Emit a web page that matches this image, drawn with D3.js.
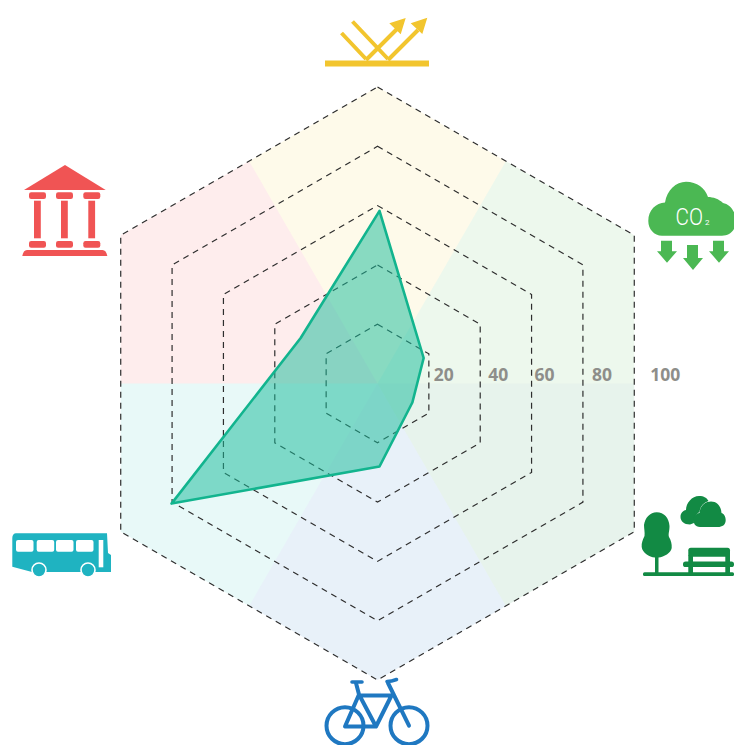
<!DOCTYPE html>
<html>
<head>
<meta charset="utf-8">
<script src="https://cdn.jsdelivr.net/npm/d3@7"></script>
<style>
  html, body { margin: 0; padding: 0; background: #fff; overflow: hidden; }
  svg { display: block; }
  .tick-label { font: 700 17.5px "Open Sans", sans-serif; fill: #8e8e8a; text-anchor: middle; }
</style>
</head>
<body>
<div class="chart"></div>
<script>
// clockwise from the top
var categories = ["albedo", "co2", "park", "bike", "bus", "civic"];
var sectorColors = ["#f2c52e", "#4bb853", "#128a44", "#1f78c1", "#1fb3c1", "#f05454"];
var sectorTints = ["#f4d030", "#4bb853", "#128a44", "#1f78c1", "#1fc2bd", "#f44f4f"];
var values = [58.2, 17.2, 12.8, 28, 81, 30.7];
var ringTicks = [20, 40, 60, 80, 100];
var tickLabelNudge = [15, 18, 13, 19, 31];

var svgWidth = 734;
var svgHeight = 745;
var centerX = 377.5;
var centerY = 383.5;
var maxRadius = 296.5;

var svg = d3
  .select(".chart")
  .append("svg")
  .attr("width", svgWidth)
  .attr("height", svgHeight);

var rScale = d3.scaleLinear().domain([0, 100]).range([0, maxRadius]);
var angleScale = d3
  .scalePoint()
  .domain(categories)
  .range([0, 2 * Math.PI * (categories.length - 1) / categories.length]);

var chart = svg
  .append("g")
  .attr("transform", "translate(" + centerX + "," + centerY + ")");

var radialClosed = d3.lineRadial().curve(d3.curveLinearClosed);

// coloured kite behind every axis
var halfStep = Math.PI / categories.length;
chart
  .selectAll(".sector")
  .data(categories)
  .enter()
  .append("path")
  .attr("class", "sector")
  .attr("fill", function(d, i) { return sectorTints[i]; })
  .attr("fill-opacity", 0.1)
  .attr("d", function(d) {
    var a = angleScale(d);
    var edgeMid = maxRadius * Math.cos(halfStep);
    return radialClosed([
      [a - halfStep, 0],
      [a - halfStep, edgeMid],
      [a, maxRadius],
      [a + halfStep, edgeMid]
    ]);
  });

// dashed rings
chart
  .selectAll(".ring")
  .data(ringTicks)
  .enter()
  .append("path")
  .attr("class", "ring")
  .attr("fill", "none")
  .attr("stroke", "#2e2e2e")
  .attr("stroke-width", 1.2)
  .attr("stroke-dasharray", "6,5")
  .attr("d", function(t) {
    return radialClosed(categories.map(function(c) {
      return [angleScale(c), rScale(t)];
    }));
  });

chart
  .selectAll(".tick-label")
  .data(ringTicks)
  .enter()
  .append("text")
  .attr("class", "tick-label")
  .attr("x", function(t, i) { return rScale(t) * Math.cos(halfStep) + tickLabelNudge[i]; })
  .attr("y", -3)
  .text(function(t) { return t; });

// data polygon sits a touch right of the grid in the original
chart
  .append("path")
  .attr("transform", "translate(2,0)")
  .attr("fill", "#1abc9c")
  .attr("fill-opacity", 0.52)
  .attr("stroke", "#12b48e")
  .attr("stroke-width", 2.6)
  .attr("stroke-linejoin", "round")
  .attr("d", radialClosed(categories.map(function(c, i) {
    return [angleScale(c), rScale(values[i])];
  })));

// icons, drawn by hand in page coordinates
var icons = svg.append("g");

function drawAlbedo() {
  var g = icons.append("g");
  var c = sectorColors[0];
  g.append("rect").attr("x", 325).attr("y", 60.5).attr("width", 104).attr("height", 6).attr("fill", c);
  g.append("path")
    .attr("d", "M341.5 33L366 59M352.5 21.5L388 59M366 60L398 28M388 60L418 30")
    .attr("fill", "none").attr("stroke", c).attr("stroke-width", 4);
  g.append("path")
    .attr("d", "M405.7 18L389.3 23.3L400.7 34.3ZM427.3 17.7L410.7 23.3L422.3 34Z")
    .attr("fill", c);
}

function drawCo2() {
  var g = icons.append("g");
  var c = sectorColors[1];
  g.append("path")
    .attr("fill", c)
    .attr("d", "M662 235.7C654 235.7 648.3 229 648.3 221C648.3 210 656 203 665 202.5C667 190 676 181.7 686 181.7C697 181.7 705 188 708 197C713 197 719 199 723 203C730 204 736 212 736 221C736 230 730 235.7 722 235.7Z");
  g.append("path")
    .attr("fill", c)
    .attr("d", "M661 240.7h11v10.5h5l-10 11.5l-10-11.5h4ZM687 245h11v13h5l-10 12l-10-12h4ZM713 240.7h11v10.5h5l-10 11.5l-10-11.5h4Z");
  g.append("text")
    .attr("x", 675.5).attr("y", 225)
    .attr("fill", "#fff")
    .style("font", "300 23px 'Roboto', sans-serif")
    .attr("textLength", 27.5)
    .attr("lengthAdjust", "spacingAndGlyphs")
    .text("CO");
  g.append("text")
    .attr("x", 705).attr("y", 225)
    .attr("fill", "#fff")
    .style("font", "8px 'Roboto', sans-serif")
    .text("2");
}

function drawPark() {
  var g = icons.append("g").attr("fill", sectorColors[2]);
  g.append("path").attr("d", "M656.7 512.3C664 512.3 669 518 669.5 526C669.6 531 668 534 669 537C671 540 672 544 671.7 548C671 553 664 557 658.5 557.5L658.5 573H655L655 557.5C649 557 642.5 553 641.7 547C641.3 543 643 539 644.5 536C645 532 644 529 644 525C645 518 650 512.3 656.7 512.3Z");
  g.append("rect").attr("x", 643).attr("y", 572.3).attr("width", 91).attr("height", 3.7).attr("rx", 1.5);
  // clouds
  g.append("path").attr("d", "M690 524.5C684 524.5 680.5 521 680.5 517C680.5 513 683 510.5 686 510C686 503 692 496 699 496C704 496 707 498 708.5 501C703 503 700 507 699.5 512C696 514 693.5 518 694 523Z");
  g.append("path").attr("d", "M700 527C695 527 693.5 523 693.5 520C693.5 516 696 513.5 699.5 513C700 506 705 501.5 711 501.5C717 501.5 721 506 721.5 513C725 514 725.7 518 725.7 520C725.7 525 722 527 718 527Z");
  // bench
  g.append("rect").attr("x", 688.3).attr("y", 547.7).attr("width", 41.7).attr("height", 9).attr("rx", 2.5);
  g.append("rect").attr("x", 683).attr("y", 561.5).attr("width", 51).attr("height", 5.5).attr("rx", 2.6);
  g.append("rect").attr("x", 688.3).attr("y", 555).attr("width", 4.7).attr("height", 18);
  g.append("rect").attr("x", 725.3).attr("y", 555).attr("width", 4.7).attr("height", 18);
}

function drawBike() {
  var c = sectorColors[3];
  var g = icons.append("g")
    .attr("fill", "none").attr("stroke", c).attr("stroke-width", 4)
    .attr("stroke-linecap", "round").attr("stroke-linejoin", "round");
  g.append("circle").attr("cx", 345).attr("cy", 725.7).attr("r", 18.5);
  g.append("circle").attr("cx", 409).attr("cy", 725.7).attr("r", 18.5);
  g.append("path").attr("d", "M345 726.5H376L359 694.5ZM359 695.5H391.5M376 726.5L391.5 695.5M359 694.5L356 683M388 683L409 725.7");
  g.append("path").attr("d", "M352 682H362M387 681.5C390 681.5 394 680.5 396.5 679.5").attr("stroke-width", 3.6);
}

function drawBus() {
  var g = icons.append("g");
  var c = sectorColors[4];
  g.append("path")
    .attr("fill", c)
    .attr("d", "M16 533.3H107L108 553L111 555V572H32L12.3 566.7V538C12.3 535 14 533.3 16 533.3Z");
  g.selectAll(".win")
    .data([16, 36.7, 56, 76])
    .enter()
    .append("rect")
    .attr("class", "win")
    .attr("x", function(d) { return d; })
    .attr("y", 540)
    .attr("width", 17.5)
    .attr("height", 11.7)
    .attr("rx", 2)
    .attr("fill", "#fff");
  g.append("rect").attr("x", 98.7).attr("y", 540).attr("width", 4.6).attr("height", 27.3).attr("fill", "#fff");
  g.selectAll(".wheel")
    .data([39, 88])
    .enter()
    .append("circle")
    .attr("class", "wheel")
    .attr("cx", function(d) { return d; })
    .attr("cy", 570)
    .attr("r", 7)
    .attr("fill", c)
    .attr("stroke", "#fff")
    .attr("stroke-width", 1.6);
}

function drawCivic() {
  var g = icons.append("g").attr("fill", sectorColors[5]);
  g.append("path").attr("d", "M65 165L105.7 190H24Z");
  g.append("path").attr("d", "M22.3 256C23 252 24.5 250 27 250H102.5C105 250 106.6 252 107.3 256Z");
  [29, 56, 83.3].forEach(function(x) {
    g.append("rect").attr("x", x).attr("y", 192.3).attr("width", 17).attr("height", 6.7).attr("rx", 2.2);
    g.append("rect").attr("x", x + 5).attr("y", 200.7).attr("width", 6.8).attr("height", 37.6);
    g.append("rect").attr("x", x).attr("y", 241).attr("width", 17).attr("height", 6.7).attr("rx", 2.2);
  });
}

drawAlbedo();
drawCo2();
drawPark();
drawBike();
drawBus();
drawCivic();
</script>
</body>
</html>
